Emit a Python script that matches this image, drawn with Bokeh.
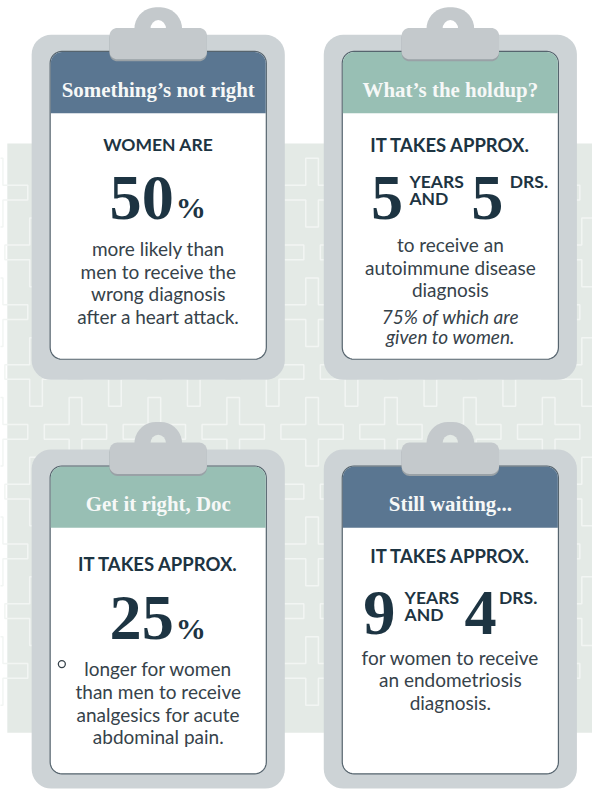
import numpy as np
from bokeh.plotting import figure
from bokeh.models import Range1d
from bokeh.core.properties import value
from bokeh.embed import file_html
from bokeh.resources import INLINE

# ---------------- data ----------------
titles = ["Something’s not right", "What’s the holdup?", "Get it right, Doc", "Still waiting..."]
header_colors = ["#5a7691", "#98bfb4", "#98bfb4", "#5a7691"]
leads = ["WOMEN ARE", "IT TAKES APPROX.", "IT TAKES APPROX.", "IT TAKES APPROX."]
stat_kind = ["percent", "years", "percent", "years"]
percent_values = {0: "50", 2: "25"}
year_values = {1: "5", 3: "9"}
doctor_values = {1: "5", 3: "4"}
unit_year_top = "YEARS"
unit_year_bottom = "AND"
unit_doctor = "DRS."
bodies = [
    ["more likely than", "men to receive the", "wrong diagnosis", "after a heart attack."],
    ["to receive an", "autoimmune disease", "diagnosis"],
    ["longer for women", "than men to receive", "analgesics for acute", "abdominal pain."],
    ["for women to receive", "an endometriosis", "diagnosis."],
]
notes = [[], ["75% of which are", "given to women."], [], []]

# ---------------- layout (reference pixel coordinates) ----------------
REF_W, REF_H = 608, 807
FIG_W, FIG_H = 592, 791
S = FIG_W / REF_W  # font scale


def fs(px):
    return value(f"{px * S:.1f}px")


card_cx = [162, 462, 162, 462]
card_T = [7, 7, 430, 430]
board_bottom = [387, 387, 804, 804]
paper_bottom = [366, 366, 789, 789]
lead_y = [147, 147, 575, 567]
lead_size = [18, 19, 19, 19]
stat_mid = [201, 201, 630, 625]
body_y0 = [253, 249, 682, 670]
note_y0 = [0, 322, 0, 0]
# offsets for the "N YEARS AND N DRS." group: digit1 centre, words left, digit2 centre, DRS left
year_offsets = {1: (-65, -42, 38, 61), 3: (-73, -47, 31, 50)}

DARK = "#1d3442"
BODY = "#36424a"
BOARD = "#cdd3d6"
CLIP = "#c4c9cc"
CLIP_SHADOW = "#99a1a6"
BAND = "#e4eae6"
BAND_LINE = "#f2f5f3"


def rrect(x0, y0, x1, y1, r, top=True, bottom=True, n=10):
    xs, ys = [], []

    def corner(cx, cy, a0, a1, rounded, px, py):
        if rounded:
            t = np.linspace(a0, a1, n)
            xs.extend(list(cx + r * np.cos(t)))
            ys.extend(list(cy + r * np.sin(t)))
        else:
            xs.append(px)
            ys.append(py)

    corner(x0 + r, y0 + r, np.pi, 1.5 * np.pi, top, x0, y0)
    corner(x1 - r, y0 + r, 1.5 * np.pi, 2 * np.pi, top, x1, y0)
    corner(x1 - r, y1 - r, 0, 0.5 * np.pi, bottom, x1, y1)
    corner(x0 + r, y1 - r, 0.5 * np.pi, np.pi, bottom, x0, y1)
    return xs, ys


def cross(cx, cy, h=32, v=35, th=7.5, tv=6.5):
    xs = [cx - tv, cx + tv, cx + tv, cx + h, cx + h, cx + tv, cx + tv, cx - tv, cx - tv, cx - h, cx - h, cx - tv]
    ys = [cy - v, cy - v, cy - th, cy - th, cy + th, cy + th, cy + v, cy + v, cy + th, cy + th, cy - th, cy - th]
    return xs, ys


p = figure(width=FIG_W, height=FIG_H, x_range=Range1d(0, REF_W), y_range=Range1d(REF_H, 0),
           output_backend="svg", toolbar_location=None, x_axis_type=None, y_axis_type=None,
           min_border=0, background_fill_color="white", border_fill_color="white",
           outline_line_color=None)

# background band with cross pattern
band_top, band_bottom = 146, 747
p.quad(left=[7], right=[REF_W + 5], top=[band_top], bottom=[band_bottom], fill_color=BAND, line_color=None)
cxs_pat, cys_pat = [], []
for j in range(-6, 6):
    for i in range(-2, 9):
        cx = 77 + 81 * i + 40.5 * (j % 2)
        cy = 440 + 61 * j
        if band_top + 30 < cy < band_bottom - 30:
            xs, ys = cross(cx, cy)
            cxs_pat.append(xs)
            cys_pat.append(ys)
p.patches(xs=cxs_pat, ys=cys_pat, fill_alpha=0, line_color=BAND_LINE, line_width=1.5)

for k in range(4):
    cx, T = card_cx[k], card_T[k]
    # board
    bx, by = rrect(cx - 130, T + 28, cx + 130, board_bottom[k], 20)
    p.patch(bx, by, fill_color=BOARD, line_color=None)
    # ring of the clip
    rx, ry = rrect(cx - 24.5, T, cx + 24.5, T + 32, 22, bottom=False)
    p.patch(rx, ry, fill_color=CLIP, line_color=None)
    hole_col = "white" if T + 20 < band_top else BAND
    p.ellipse(x=[cx], y=[T + 22], width=[16], height=[18], fill_color=hole_col, line_color=None)
    # paper
    px, py = rrect(cx - 111, T + 45, cx + 111, paper_bottom[k], 12)
    p.patch(px, py, fill_color="white", line_color="#56646e", line_width=1.2)
    hx, hy = rrect(cx - 110.4, T + 45.6, cx + 110.4, T + 108, 11.5, bottom=False)
    p.patch(hx, hy, fill_color=header_colors[k], line_color=None)
    # clip body with shadow
    sx, sy = rrect(cx - 50, T + 23, cx + 50, T + 55, 8)
    p.patch(sx, sy, fill_color=CLIP_SHADOW, line_color=None)
    kx, ky = rrect(cx - 50, T + 21, cx + 50, T + 53, 8)
    p.patch(kx, ky, fill_color=CLIP, line_color=None)

# titles
p.text(x=card_cx, y=[t + 84 for t in card_T], text=titles,
       text_font=value("Liberation Serif"), text_font_style="bold", text_font_size=fs(21.5),
       text_color="#f6f8f7", text_align="center", text_baseline="middle")

# leads
for k in range(4):
    p.text(x=[card_cx[k]], y=[lead_y[k]], text=[leads[k]], text_font=value("Lato"), text_font_style="bold",
           text_font_size=fs(lead_size[k]), text_color=DARK, text_align="center", text_baseline="middle")

# big stats
for k in range(4):
    cx, mid = card_cx[k], stat_mid[k]
    if stat_kind[k] == "percent":
        p.text(x=[cx + 16], y=[mid], text=[percent_values[k]], text_font=value("Liberation Serif"),
               text_font_style="bold", text_font_size=fs(66), text_color=DARK,
               text_align="right", text_baseline="middle")
        p.text(x=[cx + 18], y=[mid + 11], text=["%"], text_font=value("Liberation Serif"),
               text_font_style="bold", text_font_size=fs(31), text_color=DARK,
               text_align="left", text_baseline="middle")
    else:
        d1, wl, d2, dl = year_offsets[k]
        p.text(x=[cx + d1, cx + d2], y=[mid, mid], text=[year_values[k], doctor_values[k]],
               text_font=value("Liberation Serif"), text_font_style="bold",
               text_font_size=fs(66), text_color=DARK,
               text_align="center", text_baseline="middle")
        p.text(x=[cx + wl, cx + wl, cx + dl], y=[mid - 16, mid + 1, mid - 16],
               text=[unit_year_top, unit_year_bottom, unit_doctor],
               text_font=value("Lato"), text_font_style="bold", text_font_size=fs(18),
               text_color=DARK, text_align="left", text_baseline="middle")

# body lines
bx_, by_, bt_ = [], [], []
for k in range(4):
    for i, line in enumerate(bodies[k]):
        bx_.append(card_cx[k])
        by_.append(body_y0[k] + 23 * i)
        bt_.append(line)
p.text(x=bx_, y=by_, text=bt_, text_font=value("Lato"), text_font_size=fs(19.5),
       text_color=BODY, text_align="center", text_baseline="middle")

nx_, ny_, nt_ = [], [], []
for k in range(4):
    for i, line in enumerate(notes[k]):
        nx_.append(card_cx[k])
        ny_.append(note_y0[k] + 21 * i)
        nt_.append(line)
p.text(x=nx_, y=ny_, text=nt_, text_font=value("Lato"), text_font_style="italic",
       text_font_size=fs(19.5), text_color=BODY, text_align="center", text_baseline="middle")

# small bullet circle on the third card
p.scatter(x=[card_cx[2] - 99], y=[body_y0[2] - 5], size=7, marker="circle",
          fill_color="white", line_color=BODY, line_width=1.3)

open("out.html", "w").write(file_html(p, INLINE))
